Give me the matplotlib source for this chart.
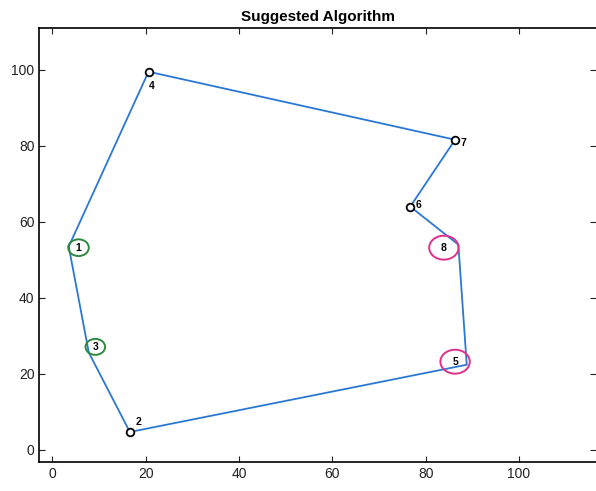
import matplotlib
matplotlib.use('Agg')
import matplotlib.pyplot as plt
from matplotlib.patches import Ellipse

plt.rcParams['font.family'] = ['Liberation Sans', 'DejaVu Sans']

# node coordinates
node_ids = [1, 2, 3, 4, 5, 6, 7, 8]
node_x = [3.5, 16.6, 7.8, 20.6, 88.8, 76.7, 86.3, 87.0]
node_y = [53.5, 4.7, 25.6, 99.5, 22.4, 64.0, 81.6, 54.0]

# visiting order of the suggested route
tour = [1, 4, 7, 6, 8, 5, 2, 3, 1]

# nodes marked with a small open circle and a label beside it
small_nodes = [2, 4, 6, 7]
small_offsets = {2: (6.5, 7), 4: (2, -10), 6: (6, 1), 7: (6, -2)}

# nodes highlighted with a coloured ellipse
ring_nodes = [1, 3, 5, 8]
ring_colors = {1: '#2e8b3e', 3: '#2e8b3e', 5: '#e0308a', 8: '#e0308a'}
ring_shift = {1: (2.1, -0.3), 3: (1.4, 1.5), 5: (-2.5, 0.8), 8: (-3.1, -0.8)}
ring_size = {1: (4.4, 4.4), 3: (4.2, 4.2), 5: (6.3, 6.3), 8: (6.3, 6.3)}

pos = {n: (x, y) for n, x, y in zip(node_ids, node_x, node_y)}

fig = plt.figure(figsize=(5.96, 4.91), dpi=100)
ax = fig.add_axes([0.066, 0.059, 0.934, 0.884])

ax.plot([pos[n][0] for n in tour], [pos[n][1] for n in tour],
        color='#2a78d4', linewidth=1.3, zorder=2)

ax.plot([pos[n][0] for n in small_nodes], [pos[n][1] for n in small_nodes],
        linestyle='none', marker='o', markersize=5.5, markerfacecolor='white',
        markeredgecolor='black', markeredgewidth=1.3, zorder=3)
for n in small_nodes:
    ax.annotate(str(n), pos[n], xytext=small_offsets[n], textcoords='offset points',
                fontsize=7.5, fontweight='bold', ha='center', va='center')

for n in ring_nodes:
    cx = pos[n][0] + ring_shift[n][0]
    cy = pos[n][1] + ring_shift[n][1]
    w, h = ring_size[n]
    ax.add_patch(Ellipse((cx, cy), w, h, facecolor='none', edgecolor=ring_colors[n],
                         linewidth=1.4, zorder=4))
    ax.text(cx, cy, str(n), fontsize=7.5, fontweight='bold', ha='center', va='center', zorder=5)

ax.set_xlim(-2.8, 116.5)
ax.set_ylim(-3.2, 111)
ax.set_xticks(range(0, 101, 20))
ax.set_yticks(range(0, 101, 20))
ax.tick_params(direction='in', top=True, right=True, labelsize=10, length=4, colors='#222222')
for s in ['left', 'bottom', 'top']:
    ax.spines[s].set_linewidth(1.2)
ax.spines['right'].set_visible(False)

ax.set_title('Suggested Algorithm', fontsize=11, fontweight='bold', pad=5)

fig.savefig('out.png', dpi=100)
